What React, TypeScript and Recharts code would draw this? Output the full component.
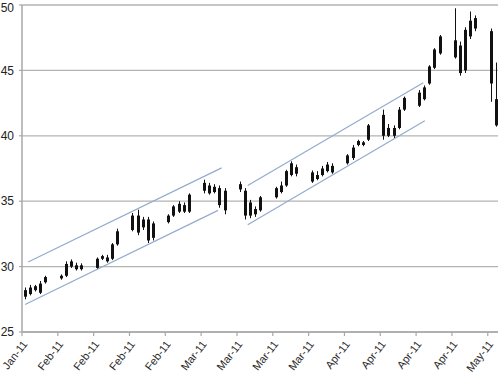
import { ComposedChart, Bar, XAxis, YAxis, CartesianGrid, ReferenceLine } from 'recharts';

// trading days, counted in calendar days from Mon 31 Jan 2011
const days = [
  0, 1, 2, 3, 4, 7, 8, 9, 10, 11, 14, 15, 16, 17, 18, 21, 22, 23, 24, 25,
  28, 29, 30, 31, 32, 35, 36, 37, 38, 39, 42, 43, 44, 45, 46, 49, 50, 51, 52, 53,
  56, 57, 58, 59, 60, 63, 64, 65, 66, 67, 70, 71, 72, 73, 74, 77, 78, 79, 80, 81,
  84, 85, 86, 87, 88, 91, 92,
];
const opens = [
  27.7, 27.9, 28.2, 28.0, 28.8, 29.1, 29.3, 30.4, 30.1, 30.1, 29.9, 30.6, 30.4, 30.6, 31.7, 32.8, 33.9, 33.6, 33.6, 33.3,
  33.4, 33.9, 34.2, 34.7, 34.2, 36.4, 36.2, 36.1, 36.0, 35.8, 36.3, 35.8, 34.9, 34.4, 34.3, 35.3, 35.7, 36.2, 37.0, 37.6,
  37.2, 37.0, 37.0, 37.3, 37.7, 37.9, 38.3, 39.3, 39.3, 39.7, 41.6, 40.6, 40.0, 40.6, 42.0, 42.3, 42.8, 44.0, 45.2, 46.3,
  46.0, 46.9, 45.0, 47.6, 48.2, 48.0, 42.8,
];
const highs = [
  28.4, 28.6, 28.6, 28.9, 29.3, 29.4, 30.4, 30.55, 30.3, 30.25, 30.7, 30.9, 30.9, 31.8, 32.9, 34.1, 34.35, 33.8, 33.8, 33.45,
  34.0, 34.7, 35.0, 34.9, 35.6, 36.65, 36.4, 36.3, 36.2, 36.0, 36.5, 36.0, 35.1, 34.6, 35.4, 36.1, 36.5, 37.4, 38.05, 37.8,
  37.35, 37.3, 37.7, 38.0, 37.9, 38.6, 39.3, 39.7, 39.6, 40.9, 42.0, 40.9, 40.8, 42.2, 43.0, 43.5, 43.85, 45.4, 46.7, 47.7,
  49.75, 47.2, 48.3, 49.5, 49.2, 48.2, 45.6,
];
const lows = [
  27.5, 27.8, 28.1, 27.9, 28.7, 29.0, 29.2, 29.9, 29.7, 29.7, 29.8, 30.5, 30.3, 30.5, 31.6, 32.7, 32.4, 32.8, 31.8, 32.0,
  33.3, 33.8, 34.1, 34.1, 34.1, 35.6, 35.5, 35.6, 34.5, 34.0, 35.7, 33.6, 33.7, 33.8, 34.2, 35.2, 35.6, 36.1, 36.9, 36.9,
  36.4, 36.6, 36.9, 37.2, 37.1, 37.8, 38.15, 39.2, 39.2, 39.6, 39.7, 39.9, 39.8, 40.5, 41.9, 42.2, 42.7, 43.9, 45.1, 46.2,
  45.9, 44.6, 44.8, 47.4, 48.0, 42.6, 40.7,
];
const closes = [
  28.2, 28.4, 28.5, 28.7, 29.2, 29.3, 30.2, 30.0, 29.8, 29.8, 30.6, 30.8, 30.7, 31.7, 32.7, 33.9, 32.6, 33.0, 32.0, 32.2,
  33.9, 34.6, 34.8, 34.2, 35.5, 35.8, 35.6, 35.7, 34.7, 34.3, 35.9, 33.9, 33.9, 34.0, 35.3, 36.0, 36.2, 37.3, 37.9, 37.1,
  36.5, 36.7, 37.5, 37.8, 37.2, 38.5, 39.1, 39.6, 39.5, 40.8, 40.0, 40.0, 40.6, 42.0, 42.9, 43.3, 43.7, 45.3, 46.6, 47.6,
  47.3, 44.8, 48.1, 48.8, 49.0, 44.0, 40.8,
];

const tickDays = [0, 7, 14, 21, 28, 35, 42, 49, 56, 63, 70, 77, 84, 91];
const tickLabels = [
  'Jan-11', 'Feb-11', 'Feb-11', 'Feb-11', 'Feb-11', 'Mar-11', 'Mar-11',
  'Mar-11', 'Mar-11', 'Apr-11', 'Apr-11', 'Apr-11', 'Apr-11', 'May-11',
];
const yTicks = [25, 30, 35, 40, 45, 50];

// trend channels: two lines per channel
const channelStartDays = [1.2, 0.6, 44.1, 44.1];
const channelStartValues = [30.35, 27.1, 36.2, 33.2];
const channelEndDays = [39.0, 38.3, 78.4, 78.7];
const channelEndValues = [37.55, 34.3, 44.05, 41.15];

const data = days.map((d, i) => ({
  x: d + 0.5,
  open: opens[i],
  high: highs[i],
  low: lows[i],
  close: closes[i],
  range: [lows[i], highs[i]],
}));

const FONT = '"Liberation Sans", Arial, sans-serif';

function Candle(props: any) {
  const { x, y, width, height, payload } = props;
  if (x == null || y == null) return null;
  const cx = Math.round(x + width / 2) + 0.5;
  const top = Math.min(y, y + height);
  const h = Math.abs(height);
  const span = payload.high - payload.low || 1;
  const toY = (v: number) => top + ((payload.high - v) / span) * h;
  const yo = toY(payload.open);
  const yc = toY(payload.close);
  return (
    <g>
      <line x1={cx} x2={cx} y1={top} y2={top + h} stroke="#111" strokeWidth={1} />
      <rect x={cx - 1.5} y={Math.min(yo, yc)} width={3} height={Math.max(Math.abs(yc - yo), 1)} fill="#111" />
    </g>
  );
}

function DateTick(props: any) {
  const { x, y, payload } = props;
  const idx = tickDays.indexOf(payload.value);
  const ax = x + 3;
  const ay = y + 4;
  return (
    <text
      x={ax}
      y={ay}
      dy="0.35em"
      textAnchor="end"
      transform={`rotate(-52, ${ax}, ${ay})`}
      fontSize={11}
      fontFamily={FONT}
      fill="#2a2a2a"
    >
      {tickLabels[idx]}
    </text>
  );
}

export default function App() {
  return (
    <div style={{ position: 'absolute', left: 0, top: 0, width: 500, height: 375, background: '#fff' }}>
      <ComposedChart width={500} height={375} data={data} margin={{ top: 5, right: 2, left: 0, bottom: 0 }}>
        <CartesianGrid horizontal vertical={false} stroke="#b3b3b3" strokeWidth={1.3} />
        <XAxis
          type="number"
          dataKey="x"
          domain={[0, 93]}
          ticks={tickDays}
          interval={0}
          height={43}
          tick={<DateTick />}
          tickSize={4}
          axisLine={{ stroke: '#a8a8a8', strokeWidth: 1.5 }}
          tickLine={{ stroke: '#a8a8a8', strokeWidth: 1.2 }}
          allowDataOverflow
        />
        <YAxis
          type="number"
          domain={[25, 50]}
          ticks={yTicks}
          width={22}
          tickSize={3}
          tickMargin={5}
          tick={{ fontSize: 12, fontFamily: FONT, fill: '#222' }}
          axisLine={{ stroke: '#a8a8a8', strokeWidth: 1.5 }}
          tickLine={{ stroke: '#a8a8a8', strokeWidth: 1.2 }}
        />
        {channelStartDays.map((d, i) => (
          <ReferenceLine
            key={i}
            segment={[
              { x: d, y: channelStartValues[i] },
              { x: channelEndDays[i], y: channelEndValues[i] },
            ]}
            stroke="#93abcf"
            strokeWidth={1.2}
            ifOverflow="visible"
          />
        ))}
        <Bar dataKey="range" barSize={4} shape={<Candle />} isAnimationActive={false} />
      </ComposedChart>
    </div>
  );
}
